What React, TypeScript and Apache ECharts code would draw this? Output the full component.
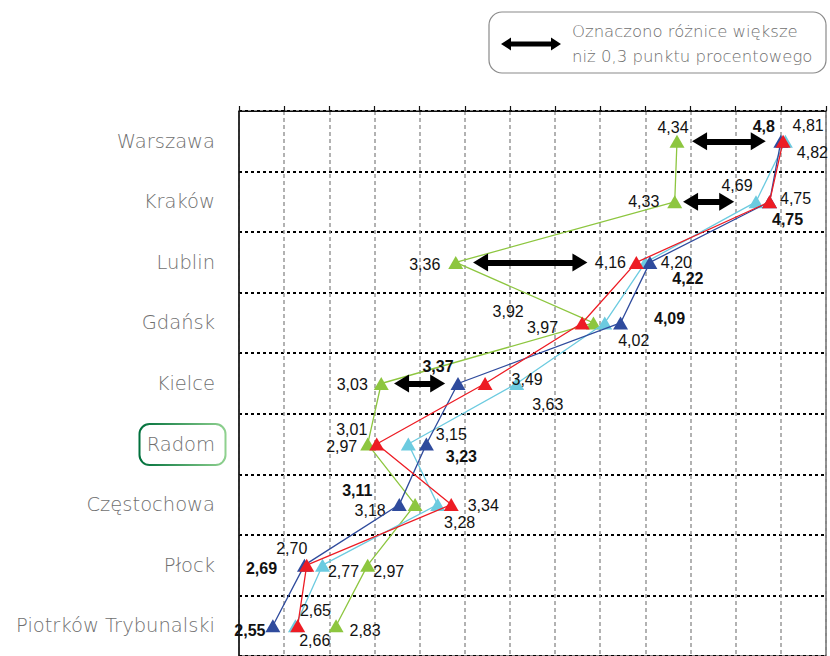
import React, { useEffect, useRef } from 'react';
import * as echarts from 'echarts';

const categories = ['Warszawa', 'Kraków', 'Lublin', 'Gdańsk', 'Kielce', 'Radom', 'Częstochowa', 'Płock', 'Piotrków Trybunalski'];
const greenValues = [4.34, 4.33, 3.36, 3.97, 3.03, 2.97, 3.18, 2.97, 2.83];
const lightBlueValues = [4.82, 4.69, 4.2, 4.02, 3.63, 3.15, 3.28, 2.77, 2.65];
const darkBlueValues = [4.8, 4.75, 4.22, 4.09, 3.37, 3.23, 3.11, 2.69, 2.55];
const redValues = [4.81, 4.75, 4.16, 3.92, 3.49, 3.01, 3.34, 2.7, 2.66];

const arrowCategories = ['Warszawa', 'Kraków', 'Lublin', 'Kielce'];
const arrowStart = [4.44, 4.40, 3.47, 3.12];
const arrowEnd = [4.70, 4.56, 3.91, 3.28];

const xMin = 2.4;
const xMax = 5.0;
const xStep = 0.2;

const legendLines = ['Oznaczono różnice większe', 'niż 0,3 punktu procentowego'];
const highlightedCategory = 'Radom';

// label offsets (label centre minus point), styling only
const greenOffsets = [[-4, -14], [-31, 0], [-31, 2], [-51, 5], [-29, 1], [-26, 2], [-45, 6], [21, 6], [29, 5]];
const lightBlueOffsets = [[27, 11], [-19, -16], [31, 0], [29, 18], [31, 21], [43, -10], [22, 18], [21, 6], [20, -15]];
const redOffsets = [[25, -16], [26, -3], [-26, 0], [-74, -11], [42, -4], [-25, -15], [32, 1], [-15, -17], [17, 15]];
const darkBlueOffsets = [[-17, -15], [18, 18], [38, 16], [49, -4], [-20, -17], [35, 12], [-42, -14], [-43, 3], [-23, 5]];

const GREEN = '#8dc63f';
const LIGHTBLUE = '#6ccbe0';
const RED = '#ed1c24';
const DARKBLUE = '#2f4b9d';
const LIGHT_FONT = '"DejaVu Sans", "Open Sans", sans-serif';
const GREY_TEXT = '#6f6f6f';

const fmt2 = (v: number) => v.toFixed(2).replace('.', ',');
const fmtRaw = (v: number) => String(v).replace('.', ',');

function makeSeries(name: string, values: number[], color: string, offsets: number[][], bold: boolean, z: number) {
  return {
    name,
    type: 'line',
    z,
    symbol: 'triangle',
    symbolSize: [15, 13],
    lineStyle: { color, width: 1.3 },
    itemStyle: { color },
    emphasis: { disabled: true },
    label: {
      show: true,
      position: 'inside',
      align: 'center',
      verticalAlign: 'middle',
      color: '#111',
      fontSize: 16,
      fontFamily: '"Liberation Sans", Arial, sans-serif',
      fontWeight: bold ? 'bold' : 'normal',
      formatter: (p: any) => (bold ? fmtRaw(p.value[0]) : fmt2(p.value[0])),
    },
    data: values.map((v, i) => ({ value: [v, categories[i]], label: { offset: offsets[i] } })),
  };
}

export default function App() {
  const ref = useRef<HTMLDivElement>(null);
  useEffect(() => {
    document.body.style.margin = '0';
    const chart = echarts.init(ref.current!, null, { renderer: 'svg' });
    const option: any = {
      animation: false,
      grid: {
        left: 239,
        right: 4,
        top: 111,
        height: 546,
        show: true,
        borderColor: '#111',
        borderWidth: 1,
      },
      xAxis: {
        type: 'value',
        position: 'top',
        min: xMin,
        max: xMax,
        interval: xStep,
        axisLabel: { show: false },
        axisLine: { show: true, lineStyle: { color: '#111', width: 1.2 } },
        axisTick: { show: true, inside: false, length: 5, lineStyle: { color: '#111', width: 1.2 } },
        splitLine: { show: true, lineStyle: { color: '#999', width: 1.5, type: [4, 3] } },
      },
      yAxis: {
        type: 'category',
        inverse: true,
        data: categories,
        axisLine: { show: true, lineStyle: { color: '#111', width: 1.5 } },
        axisTick: { show: false },
        axisLabel: {
          margin: 24,
          color: GREY_TEXT,
          fontSize: 19.5,
          fontFamily: LIGHT_FONT,
          fontWeight: 200,
          padding: [4, 0, 0, 0],
        },
        splitLine: { show: true, lineStyle: { color: '#000', width: 2, type: [3, 3] } },
      },
      series: [
        makeSeries('green', greenValues, GREEN, greenOffsets, false, 2),
        makeSeries('lightblue', lightBlueValues, LIGHTBLUE, lightBlueOffsets, false, 3),
        makeSeries('darkblue', darkBlueValues, DARKBLUE, darkBlueOffsets, true, 4),
        makeSeries('red', redValues, RED, redOffsets, false, 5),
        {
          name: 'arrows',
          type: 'line',
          data: [],
          z: 6,
          markLine: {
            silent: true,
            symbol: ['triangle', 'triangle'],
            symbolSize: [18, 15],
            lineStyle: { color: '#000', width: 6, type: 'solid' },
            label: { show: false },
            emphasis: { disabled: true },
            data: arrowCategories.map((c, i) => [
              { coord: [arrowStart[i], c] },
              { coord: [arrowEnd[i], c] },
            ]),
          },
        },
      ],
      graphic: [
        {
          id: 'legendBox',
          type: 'rect',
          shape: { x: 489, y: 12, width: 337, height: 61, r: 13 },
          style: { fill: '#fff', stroke: '#8a8a8a', lineWidth: 1.2 },
        },
        {
          id: 'legendArrow',
          type: 'polygon',
          shape: {
            points: [[501, 44], [511, 37.5], [511, 41.5], [551, 41.5], [551, 37.5], [561, 44], [551, 50.5], [551, 46.5], [511, 46.5], [511, 50.5]],
          },
          style: { fill: '#000' },
        },
        {
          id: 'legendText1',
          type: 'text',
          x: 572,
          y: 31,
          style: { text: legendLines[0], fill: GREY_TEXT, fontSize: 16.5, fontFamily: LIGHT_FONT, fontWeight: 200, verticalAlign: 'middle' },
        },
        {
          id: 'legendText2',
          type: 'text',
          x: 572,
          y: 56,
          style: { text: legendLines[1], fill: GREY_TEXT, fontSize: 16.5, fontFamily: LIGHT_FONT, fontWeight: 200, verticalAlign: 'middle' },
        },
      ],
    };
    chart.setOption(option);
    // highlight box round the Radom label
    const idx = categories.indexOf(highlightedCategory);
    const py = chart.convertToPixel({ yAxisIndex: 0 }, idx) as number;
    chart.setOption({
      graphic: [
        {
          id: 'radomBox',
          type: 'rect',
          shape: { x: 139.5, y: py - 20, width: 86, height: 41, r: 10 },
          style: {
            fill: 'none',
            lineWidth: 2,
            stroke: new echarts.graphic.LinearGradient(0, 0, 1, 0, [
              { offset: 0, color: '#00703c' },
              { offset: 1, color: '#8fd18f' },
            ]),
          },
        },
      ],
    });
    return () => chart.dispose();
  }, []);
  return <div ref={ref} style={{ width: 830, height: 656 }} />;
}
